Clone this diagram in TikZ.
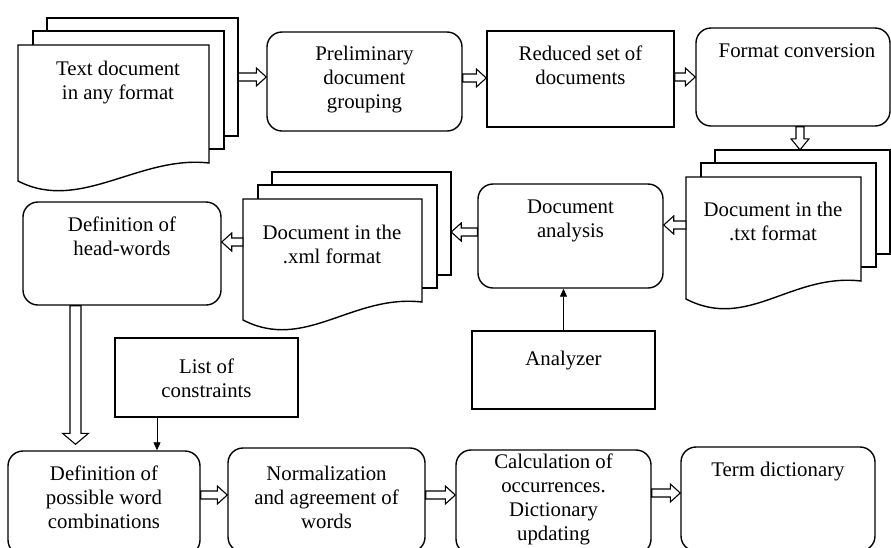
\documentclass[tikz,border=0pt]{standalone}
\usepackage{fontspec}
\setmainfont{Liberation Serif}
\usetikzlibrary{arrows.meta,calc,positioning}

\tikzset{
  box/.style={draw, line width=1.4pt, rounded corners=15pt, inner sep=0pt},
  sqbox/.style={draw, line width=1.4pt, inner sep=0pt},
  frame/.style={inner sep=0pt},
  sheet/.style={draw, fill=white, line width=1.4pt},
  lbl/.style={font=\fontsize{20.8}{24}\selectfont, align=center, inner sep=0pt, anchor=north},
  hollow/.style={draw, fill=white, line width=1.1pt},
  hollowR/.style={hollow, to path={let \p1=(\tikztostart), \p2=(\tikztotarget) in
      (\x1,\y1+4pt) -- (\x2-10pt,\y1+4pt) -- (\x2-10pt,\y1+9pt) -- (\x2,\y1)
      -- (\x2-10pt,\y1-9pt) -- (\x2-10pt,\y1-4pt) -- (\x1,\y1-4pt) -- cycle}},
  hollowL/.style={hollow, to path={let \p1=(\tikztostart), \p2=(\tikztotarget) in
      (\x1,\y1+4pt) -- (\x2+10pt,\y1+4pt) -- (\x2+10pt,\y1+9pt) -- (\x2,\y1)
      -- (\x2+10pt,\y1-9pt) -- (\x2+10pt,\y1-4pt) -- (\x1,\y1-4pt) -- cycle}},
  hollowD/.style 2 args={hollow, to path={let \p1=(\tikztostart), \p2=(\tikztotarget) in
      (\x1+#1,\y1) -- (\x1+#1,\y2+11pt) -- (\x1+#2,\y2+11pt) -- (\x1,\y2)
      -- (\x1-#2,\y2+11pt) -- (\x1-#1,\y2+11pt) -- (\x1-#1,\y1) -- cycle}},
  thinarrow/.style={line width=0.8pt, -{Triangle[length=8pt,width=7pt]}}
}

% stack of three sheets, front one with a wavy bottom
\newcommand{\docstack}[5]{%
  \draw[sheet] (#2+29,#3-27) rectangle (#4+29,#5-27);
  \draw[sheet] (#2+15,#3-14) rectangle (#4+15,#5-14);
  \draw[sheet] (#2,#3) -- (#4,#3) -- (#4,#5)
    .. controls (#4-70,#5-8) and (#2+62,#5+50) .. (#2,#5+18) -- cycle;
  \node[frame, minimum width={(#4-#2)*1pt}, minimum height={(#5-#3)*1pt}] (#1)
    at ({(#2+#4)/2},{(#3+#5)/2}) {};
  \node[frame, minimum width={(#4-#2)*1pt}, minimum height={(#5-#3)*1pt}] (#1-back)
    at ({(#2+#4)/2+29},{(#3+#5)/2-27}) {};
}

\begin{document}
\begin{tikzpicture}[x=1pt,y=-1pt]
\useasboundingbox (0,0) rectangle (891,547);

% document stacks
\docstack{TXT}{18}{45}{209}{163}
\docstack{DOCT}{686}{177}{861}{281}
\docstack{DOCX}{243}{199}{422}{302}

\node[lbl] (TXT-t)  at (118,60.5)  {Text document\\in any format};
\node[lbl] (DOCT-t) at (773,201.5) {Document in the\\.txt format};
\node[lbl] (DOCX-t) at (332,224.5) {Document in the\\.xml format};

% blocks
\node[box, minimum width=195pt, minimum height=99pt]    (PRE)  at (364.5,81.5) {};
\node[sqbox, minimum width=187pt, minimum height=96pt]  (RED)  at (580.5,79)   {};
\node[box, minimum width=194pt, minimum height=98pt]    (FMT)  at (793,77)     {};
\node[box, minimum width=185pt, minimum height=104pt]   (ANA)  at (570.5,236)  {};
\node[box, minimum width=198pt, minimum height=103pt]   (HEAD) at (122,253.5)  {};
\node[sqbox, minimum width=183pt, minimum height=79pt]  (CON)  at (206.5,377.5) {};
\node[sqbox, minimum width=183pt, minimum height=78pt]  (AZR)  at (563.5,370)  {};
\node[box, minimum width=192pt, minimum height=104pt]   (COMB) at (104,503)    {};
\node[box, minimum width=197pt, minimum height=104pt]   (NORM) at (326.5,500)  {};
\node[box, minimum width=195pt, minimum height=104pt]   (CALC) at (553.5,502)  {};
\node[box, minimum width=194pt, minimum height=104pt]   (TERM) at (778,499)    {};

\node[lbl, below=14.5pt of PRE.north]  (PRE-t)  {Preliminary\\document\\grouping};
\node[lbl, below=15.5pt of RED.north]  (RED-t)  {Reduced set of\\documents};
\node[lbl, below=16.5pt of FMT.north, xshift=4pt] (FMT-t) {Format conversion};
\node[lbl, below=16.5pt of ANA.north]  (ANA-t)  {Document\\analysis};
\node[lbl, below=15.5pt of HEAD.north] (HEAD-t) {Definition of\\head-words};
\node[lbl, below=21.5pt of CON.north]  (CON-t)  {List of\\constraints};
\node[lbl, below=20.5pt of AZR.north]  (AZR-t)  {Analyzer};
\node[lbl, below=15.5pt of COMB.north] (COMB-t) {Definition of\\possible word\\combinations};
\node[lbl, below=18.5pt of NORM.north] (NORM-t) {Normalization\\and agreement of\\words};
\node[lbl, below=4.5pt of CALC.north]  (CALC-t) {Calculation of\\occurrences.\\Dictionary\\updating};
\node[lbl, below=15.5pt of TERM.north] (TERM-t) {Term dictionary};

% hollow flow arrows
\draw[hollowR] (TXT-back.east) to (PRE.west);
\draw[hollowR] ([yshift=3.5pt]PRE.east) to (RED.west);
\draw[hollowR] ([yshift=2pt]RED.east) to (FMT.west);
\draw[hollowD={4pt}{9pt}] ([xshift=7pt]FMT.south) to (DOCT-back.north);
\draw[hollowL] ([yshift=4pt]DOCT.west) to (ANA.east);
\draw[hollowL] ([yshift=4pt]ANA.west) to (DOCX-back.east);
\draw[hollowL] ([yshift=8.5pt]DOCX.west) to (HEAD.east);
\draw[hollowD={5.5pt}{13pt}] ([xshift=-46.5pt]HEAD.south) to ([yshift=6pt]COMB.north);
\draw[hollowR] ([yshift=8pt]COMB.east) to (NORM.west);
\draw[hollowR] ([yshift=5pt]NORM.east) to (CALC.west);
\draw[hollowR] ([yshift=9pt]CALC.east) to (TERM.west);

% thin arrows
\coordinate (CONa) at ([xshift=-49.5pt]CON.south);
\draw[thinarrow] (CONa) -- (CONa |- COMB.north);
\draw[thinarrow] (AZR.north) -- (AZR.north |- ANA.south);

\end{tikzpicture}
\end{document}
